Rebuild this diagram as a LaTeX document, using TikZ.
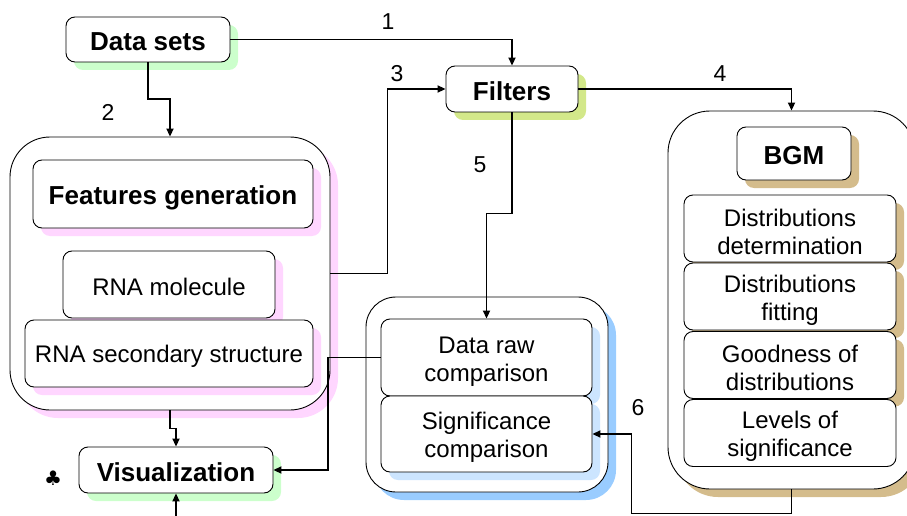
\documentclass[tikz,border=0pt]{standalone}
\usepackage{fontspec}
\setmainfont{Liberation Sans}
\newfontfamily\symfont{DejaVu Sans}
\usetikzlibrary{arrows.meta,shadows}
\definecolor{shgreen}{HTML}{CCFFCC}
\definecolor{shyellow}{HTML}{D3E88A}
\definecolor{shpink}{HTML}{FFD6FF}
\definecolor{shblue}{HTML}{99CCFF}
\definecolor{shlblue}{HTML}{CCE5FF}
\definecolor{shtan}{HTML}{D4BC8C}
\newcommand{\firstup}{\rule{0pt}{24pt}}
\tikzset{
  box/.style={draw=black, line width=0.9pt, fill=white, rounded corners=9pt,
    inner sep=0pt, align=center, font=\fontsize{24}{28}\selectfont,
    execute at begin node={\rule{0pt}{23pt}}},
  bold/.style={font=\fontsize{26}{30}\selectfont\bfseries},
  bigbox/.style={box, rounded corners=#1},
  shad/.style={drop shadow={shadow xshift=8pt, shadow yshift=-8pt, opacity=1, fill=#1}},
  sz/.style n args={2}{minimum width=#1pt, minimum height=#2pt},
  arr/.style={line width=1.9pt, -{Triangle[length=8pt,width=7pt]}},
  lab/.style={font=\fontsize{23}{27}\selectfont}
}
\begin{document}
\begin{tikzpicture}[x=1pt,y=-1pt]
\useasboundingbox (0,0) rectangle (907,516);
% big containers
\node[bigbox=40pt, shad=shpink, sz={320}{273}] (featbig) at (170,273.5) {};
\node[bigbox=30pt, shad=shblue, sz={242}{195}] (compbig) at (487,394.5) {};
\node[bigbox=42pt, shad=shtan, sz={247}{378}] (bgmbig) at (791.5,300) {};
% top nodes
\node[box, bold, shad=shgreen, sz={164}{45}] (datasets) at (148,39.5) {Data sets};
\node[box, bold, shad=shyellow, sz={132}{46}] (filters) at (512,89) {Filters};
% features
\node[box, bold, shad=shpink, sz={280}{68}, execute at begin node={\rule{0pt}{27pt}}] (featgen) at (173,194) {Features generation};
\node[box, shad=shpink, sz={212}{67}] (rnamol) at (169,284.5) {RNA molecule};
\node[box, shad=shpink, sz={288}{67}] (rnasec) at (169,353.5) {RNA secondary structure};
% visualization
\node[box, bold, shad=shgreen, sz={194}{46}] (vis) at (176,470) {Visualization};
\node[font=\symfont\fontsize{20}{24}\selectfont] (club) at (53,478) {♣};
% comparisons
\node[box, shad=shlblue, sz={211}{77}] (dataraw) at (486.5,357.5) {\firstup Data raw\\comparison};
\node[box, shad=shlblue, sz={211}{76}] (sigcomp) at (486.5,434) {\firstup Significance\\comparison};
% BGM
\node[box, bold, shad=shtan, sz={114}{53}] (bgm) at (794,153.5) {BGM};
\node[box, shad=shtan, sz={212}{67}] (dd) at (790,228.5) {\firstup Distributions\\determination};
\node[box, shad=shtan, sz={212}{67}] (df) at (790,296.5) {\firstup Distributions\\fitting};
\node[box, shad=shtan, sz={212}{67}] (gd) at (790,365) {\firstup Goodness of\\distributions};
\node[box, sz={212}{67}] (ls) at (790,433) {\firstup Levels of\\significance};
% connectors
\draw[arr] (datasets.east) -| (filters.north);
\draw[arr] (datasets.south) -- ++(0,37) -| (featbig.north);
\draw[arr] (featbig.east) -- ++(57,0) |- (filters.west);
\draw[arr] (filters.east) -| (bgmbig.north);
\draw[arr] (filters.south) -- ++(0,101) -| (dataraw.north);
\draw[arr] (dataraw.west) -- ++(-53,0) |- (vis.east);
\draw[arr] (featbig.south) -- ++(0,18) -| (vis.north);
\coordinate (visin) at (176,516);
\draw[arr] (visin) -- (vis.south);
\draw[arr] (bgmbig.south) -- ++(0,24) -| ([xshift=39pt]sigcomp.east) -- (sigcomp.east);
% labels
\node[lab] (l1) at (388,22) {1};
\node[lab] (l2) at (108,112) {2};
\node[lab] (l3) at (397,74) {3};
\node[lab] (l4) at (720,74) {4};
\node[lab] (l5) at (480,165) {5};
\node[lab] (l6) at (638,408) {6};
\end{tikzpicture}
\end{document}
